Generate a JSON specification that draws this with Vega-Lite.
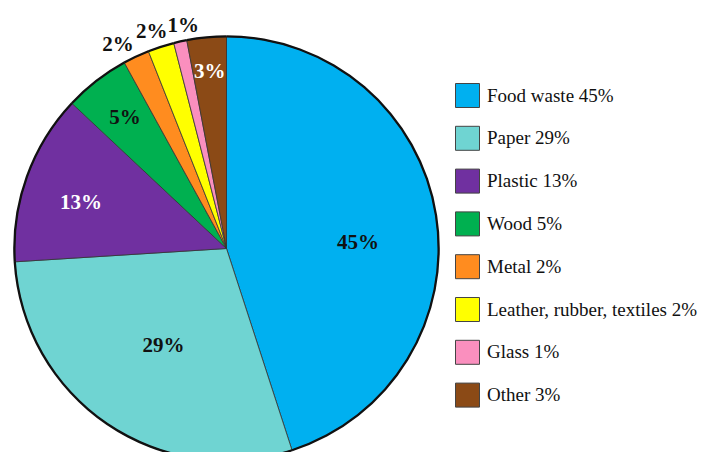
{
  "$schema": "https://vega.github.io/schema/vega-lite/v6.json",
  "width": 702,
  "height": 452,
  "autosize": {"type": "none"},
  "padding": 0,
  "background": "white",
  "data": {
    "values": [
      {"idx": 1, "name": "Food waste 45%", "pct": 45, "label": "45%"},
      {"idx": 2, "name": "Paper 29%", "pct": 29, "label": "29%"},
      {"idx": 3, "name": "Plastic 13%", "pct": 13, "label": "13%"},
      {"idx": 4, "name": "Wood 5%", "pct": 5, "label": "5%"},
      {"idx": 5, "name": "Metal 2%", "pct": 2, "label": "2%"},
      {"idx": 6, "name": "Leather, rubber, textiles 2%", "pct": 2, "label": "2%"},
      {"idx": 7, "name": "Glass 1%", "pct": 1, "label": "1%"},
      {"idx": 8, "name": "Other 3%", "pct": 3, "label": "3%"}
    ]
  },
  "encoding": {
    "theta": {"field": "pct", "type": "quantitative", "stack": true},
    "order": {"field": "idx", "type": "quantitative"}
  },
  "layer": [
    {
      "mark": {"type": "arc", "x": 226.5, "y": 248.5, "outerRadius": 212, "stroke": "#333", "strokeWidth": 0.8},
      "encoding": {
        "color": {
          "field": "name",
          "type": "nominal",
          "scale": {
            "domain": ["Food waste 45%", "Paper 29%", "Plastic 13%", "Wood 5%", "Metal 2%", "Leather, rubber, textiles 2%", "Glass 1%", "Other 3%"],
            "range": ["#00B0F0", "#6FD4D2", "#7030A0", "#00B050", "#FF8C1F", "#FFFF00", "#FA8FBE", "#8B4A16"]
          },
          "legend": {
            "title": null,
            "orient": "none",
            "legendX": 455,
            "legendY": 83,
            "padding": 0,
            "symbolType": "square",
            "symbolSize": 576,
            "symbolStrokeColor": "#444",
            "symbolStrokeWidth": 1,
            "labelFont": "Liberation Serif",
            "labelFontSize": 19,
            "labelColor": "#111",
            "labelOffset": 7,
            "labelLimit": 400,
            "rowPadding": 13.8
          }
        }
      }
    },
    {
      "mark": {"type": "arc", "x": 226.5, "y": 248.5, "innerRadius": 211, "outerRadius": 213.3, "fill": "#111", "stroke": null},
      "encoding": {"detail": {"field": "name"}}
    },
    {
      "mark": {"type": "text", "x": 226.5, "y": 248.5, "radius": 131.6, "thetaOffset": 0.1187, "font": "Liberation Serif", "fontWeight": "bold", "fontSize": 21, "fill": "#111", "align": "center", "baseline": "middle"},
      "encoding": {"detail": {"field": "name"}, "text": {"condition": {"test": "datum.name === 'Food waste 45%'", "field": "label"}, "value": ""}}
    },
    {
      "mark": {"type": "text", "x": 226.5, "y": 248.5, "radius": 115.7, "thetaOffset": -0.021, "font": "Liberation Serif", "fontWeight": "bold", "fontSize": 21, "fill": "#111", "align": "center", "baseline": "middle"},
      "encoding": {"detail": {"field": "name"}, "text": {"condition": {"test": "datum.name === 'Paper 29%'", "field": "label"}, "value": ""}}
    },
    {
      "mark": {"type": "text", "x": 226.5, "y": 248.5, "radius": 152.6, "thetaOffset": -0.04, "font": "Liberation Serif", "fontWeight": "bold", "fontSize": 21, "fill": "#ffffff", "align": "center", "baseline": "middle"},
      "encoding": {"detail": {"field": "name"}, "text": {"condition": {"test": "datum.name === 'Plastic 13%'", "field": "label"}, "value": ""}}
    },
    {
      "mark": {"type": "text", "x": 226.5, "y": 248.5, "radius": 165.7, "font": "Liberation Serif", "fontWeight": "bold", "fontSize": 21, "fill": "#111", "align": "center", "baseline": "middle"},
      "encoding": {"detail": {"field": "name"}, "text": {"condition": {"test": "datum.name === 'Wood 5%'", "field": "label"}, "value": ""}}
    },
    {
      "mark": {"type": "text", "x": 226.5, "y": 248.5, "radius": 176.8, "font": "Liberation Serif", "fontWeight": "bold", "fontSize": 21, "fill": "#ffffff", "align": "center", "baseline": "middle"},
      "encoding": {"detail": {"field": "name"}, "text": {"condition": {"test": "datum.name === 'Other 3%'", "field": "label"}, "value": ""}}
    },
    {
      "mark": {"type": "text", "x": 226.5, "y": 248.5, "radius": 231, "thetaOffset": -0.049, "font": "Liberation Serif", "fontWeight": "bold", "fontSize": 21, "fill": "#111", "align": "center", "baseline": "middle"},
      "encoding": {"detail": {"field": "name"}, "text": {"condition": {"test": "datum.name === 'Metal 2%'", "field": "label"}, "value": ""}}
    },
    {
      "mark": {"type": "text", "x": 226.5, "y": 248.5, "radius": 229.4, "thetaOffset": -0.0175, "font": "Liberation Serif", "fontWeight": "bold", "fontSize": 21, "fill": "#111", "align": "center", "baseline": "middle"},
      "encoding": {"detail": {"field": "name"}, "text": {"condition": {"test": "datum.name === 'Leather, rubber, textiles 2%'", "field": "label"}, "value": ""}}
    },
    {
      "mark": {"type": "text", "x": 226.5, "y": 248.5, "radius": 227, "thetaOffset": 0.028, "font": "Liberation Serif", "fontWeight": "bold", "fontSize": 21, "fill": "#111", "align": "center", "baseline": "middle"},
      "encoding": {"detail": {"field": "name"}, "text": {"condition": {"test": "datum.name === 'Glass 1%'", "field": "label"}, "value": ""}}
    }
  ],
  "config": {"view": {"stroke": null}}
}
